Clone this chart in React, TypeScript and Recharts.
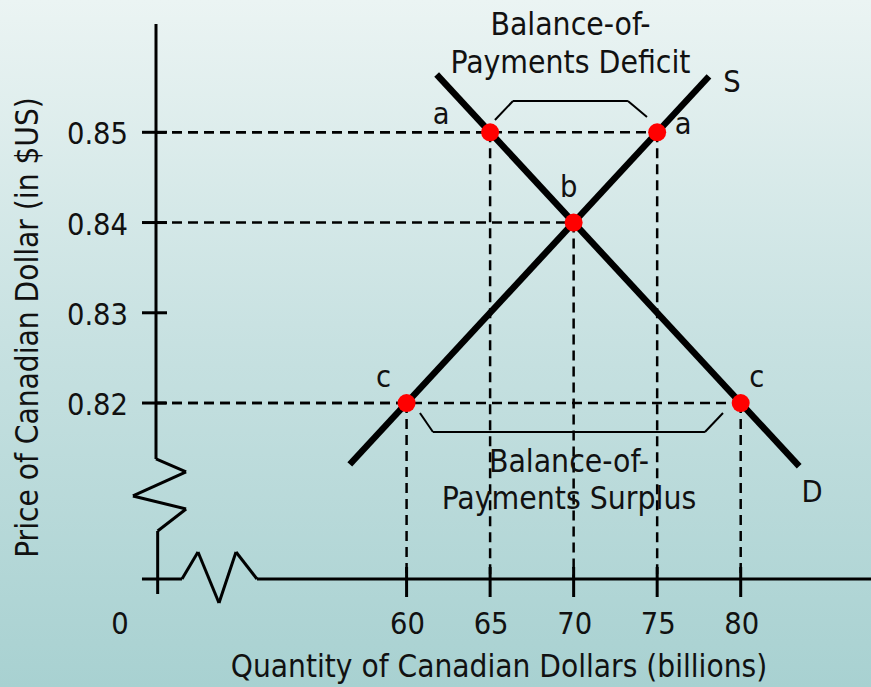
import React from 'react';
import { ComposedChart, Line, Scatter, XAxis, YAxis, ReferenceLine, LabelList, Label } from 'recharts';

// ---------- data ----------
const X_DOMAIN = [45, 87.8];
const Y_DOMAIN = [0.8005, 0.862];
const X_TICKS = [45, 60, 65, 70, 75, 80];
const Y_TICKS = [0.82, 0.83, 0.84, 0.85];
const ORIGIN_Q = 45;
const AXIS_P = 0.8005;

const SUPPLY = [
  { q: 56.6, p: 0.8132 },
  { q: 78.1, p: 0.8562 },
];
const DEMAND = [
  { q: 61.8, p: 0.8564 },
  { q: 83.5, p: 0.813 },
];
const POINTS = [
  { id: 'a1', q: 65, p: 0.85, label: 'a' },
  { id: 'a2', q: 75, p: 0.85, label: 'a' },
  { id: 'b', q: 70, p: 0.84, label: 'b' },
  { id: 'c1', q: 60, p: 0.82, label: 'c' },
  { id: 'c2', q: 80, p: 0.82, label: 'c' },
];
// axis paths with break zigzags (data units)
const Y_AXIS_PATH = [
  [45, 0.862], [45, 0.8138], [46.8, 0.81236], [43.62, 0.8097], [46.8, 0.80826], [45.1, 0.80582], [45.1, 0.79884],
];
const X_AXIS_PATH = [
  [44.16, 0.8005], [46.556, 0.8005], [47.514, 0.80349], [48.771, 0.79784], [49.789, 0.80349], [51.046, 0.8005], [87.8, 0.8005],
];
const DEFICIT_BRACKET = [[65.29, 0.85136], [66.37, 0.85347], [73.25, 0.85347], [74.39, 0.8517]];
const SURPLUS_BRACKET = [[60.8, 0.8189], [61.58, 0.81679], [77.86, 0.81679], [78.94, 0.8189]];
const DEFICIT_TEXT = ['Balance-of-', 'Payments Deficit'];
const SURPLUS_TEXT = ['Balance-of-', 'Payments Surplus'];
const X_TITLE = 'Quantity of Canadian Dollars (billions)';
const Y_TITLE = 'Price of Canadian Dollar (in $US)';

// ---------- styles ----------
const FONT = "'DejaVu Sans Condensed', 'DejaVu Sans', sans-serif";
const FS = 30.5;
const TITLE_FS = 31.3;
const INK = '#111';
const POINT_LABEL_OFFSET: Record<string, [number, number]> = {
  a1: [-49, -8], a2: [26, 2], b: [-5, -26], c1: [-23, -16], c2: [16, -16],
};

const segs = (path: number[][]) =>
  path.slice(1).map((pt, i) => [{ x: path[i][0], y: path[i][1] }, { x: pt[0], y: pt[1] }]);

const YTick = (props: any) => {
  const { x, y, payload } = props;
  return (
    <g>
      <line x1={x + 14} x2={x + 39} y1={y} y2={y} stroke="#000" strokeWidth={3} />
      <text x={x} y={y + 12} textAnchor="end" fontFamily={FONT} fontSize={FS} fill={INK}>
        {payload.value.toFixed(2)}
      </text>
    </g>
  );
};

const XTick = (props: any) => {
  const { x, y, payload } = props;
  if (payload.value === ORIGIN_Q) {
    return (
      <text x={x - 36} y={y + 37} textAnchor="middle" fontFamily={FONT} fontSize={FS} fill={INK}>0</text>
    );
  }
  return (
    <g>
      <line x1={x} x2={x} y1={y - 30} y2={y} stroke="#000" strokeWidth={3} />
      <text x={x + 1} y={y + 37} textAnchor="middle" fontFamily={FONT} fontSize={FS} fill={INK}>
        {payload.value}
      </text>
    </g>
  );
};

const PointShape = (props: any) => {
  const { cx, cy, payload } = props;
  const off = POINT_LABEL_OFFSET[payload.id] || [0, 0];
  return (
    <g>
      <circle cx={cx} cy={cy} r={9} fill="#ff0000" />
      <text x={cx + off[0]} y={cy + off[1]} textAnchor="middle" fontFamily={FONT} fontSize={FS} fill={INK}>
        {payload.label}
      </text>
    </g>
  );
};

const endLabel = (text: string, n: number, dx: number, dy: number) => (props: any) => {
  const { x, y, index } = props;
  if (index !== n - 1) return null;
  return (
    <text x={x + dx} y={y + dy} textAnchor="middle" fontFamily={FONT} fontSize={FS} fill={INK}>{text}</text>
  );
};

const bracketText = (lines: string[], dys: number[]) => (props: any) => {
  const vb = props.viewBox || {};
  const cx = vb.x + vb.width / 2;
  const y = vb.y;
  return (
    <g>
      {lines.map((l, i) => (
        <text key={i} x={cx} y={y + dys[i]} textAnchor="middle" fontFamily={FONT} fontSize={31.6} fill={INK}>{l}</text>
      ))}
    </g>
  );
};

const XTitle = (props: any) => {
  const vb = props.viewBox;
  return (
    <text x={vb.x + 343} y={vb.y + 98} textAnchor="middle" fontFamily={FONT} fontSize={TITLE_FS} fill={INK}>{X_TITLE}</text>
  );
};
const YTitle = (props: any) => {
  const vb = props.viewBox;
  const cx = 27;
  const cy = vb.y + vb.height / 2 + 26;
  return (
    <text x={cx} y={cy} transform={`rotate(-90, ${cx}, ${cy})`} textAnchor="middle" dominantBaseline="central"
      fontFamily={FONT} fontSize={TITLE_FS} fill={INK}>{Y_TITLE}</text>
  );
};

export default function App() {
  const dashed: any[] = [];
  POINTS.forEach((pt) => {
    dashed.push([{ x: ORIGIN_Q, y: pt.p }, { x: pt.q, y: pt.p }]);
    dashed.push([{ x: pt.q, y: pt.p }, { x: pt.q, y: AXIS_P }]);
  });
  const defSegs = segs(DEFICIT_BRACKET);
  const surSegs = segs(SURPLUS_BRACKET);
  return (
    <div
      style={{
        position: 'absolute', left: 0, top: 0, width: 871, height: 687,
        background: 'linear-gradient(to bottom, #ebf4f3 0%, #c7e1e1 50%, #a8d1d1 100%)',
        fontFamily: FONT,
      }}
    >
      <ComposedChart width={871} height={687} margin={{ top: 24, right: 0, bottom: 0, left: 0 }}>
        <XAxis
          type="number" dataKey="q" domain={X_DOMAIN} allowDataOverflow ticks={X_TICKS}
          axisLine={false} tickLine={false} tickSize={18} tickMargin={0} height={108}
          tick={<XTick />} interval={0}
        >
          <Label content={<XTitle />} />
        </XAxis>
        <YAxis
          type="number" dataKey="p" domain={Y_DOMAIN} allowDataOverflow ticks={Y_TICKS}
          axisLine={false} tickLine={false} tickSize={14} tickMargin={14} width={156}
          tick={<YTick />} interval={0}
        >
          <Label content={<YTitle />} />
        </YAxis>

        {dashed.map((s, i) => (
          <ReferenceLine key={'d' + i} segment={s} stroke="#000" strokeWidth={2.5} strokeDasharray="10 6" ifOverflow="visible" />
        ))}
        {segs(Y_AXIS_PATH).map((s, i) => (
          <ReferenceLine key={'ya' + i} segment={s} stroke="#000" strokeWidth={3} ifOverflow="visible" />
        ))}
        {segs(X_AXIS_PATH).map((s, i) => (
          <ReferenceLine key={'xa' + i} segment={s} stroke="#000" strokeWidth={3} ifOverflow="visible" />
        ))}
        {defSegs.map((s, i) => (
          <ReferenceLine key={'db' + i} segment={s} stroke="#000" strokeWidth={2} ifOverflow="visible"
            label={i === 1 ? bracketText(DEFICIT_TEXT, [-66, -28]) : undefined} />
        ))}
        {surSegs.map((s, i) => (
          <ReferenceLine key={'sb' + i} segment={s} stroke="#000" strokeWidth={2} ifOverflow="visible"
            label={i === 1 ? bracketText(SURPLUS_TEXT, [40, 77]) : undefined} />
        ))}

        <Line data={SUPPLY} dataKey="p" stroke="#000" strokeWidth={6.5} dot={false} isAnimationActive={false} legendType="none">
          <LabelList dataKey="p" content={endLabel('S', SUPPLY.length, 23, 16)} />
        </Line>
        <Line data={DEMAND} dataKey="p" stroke="#000" strokeWidth={6.5} dot={false} isAnimationActive={false} legendType="none">
          <LabelList dataKey="p" content={endLabel('D', DEMAND.length, 13, 36)} />
        </Line>
        <Scatter data={POINTS} dataKey="p" shape={<PointShape />} isAnimationActive={false} />
      </ComposedChart>
    </div>
  );
}
